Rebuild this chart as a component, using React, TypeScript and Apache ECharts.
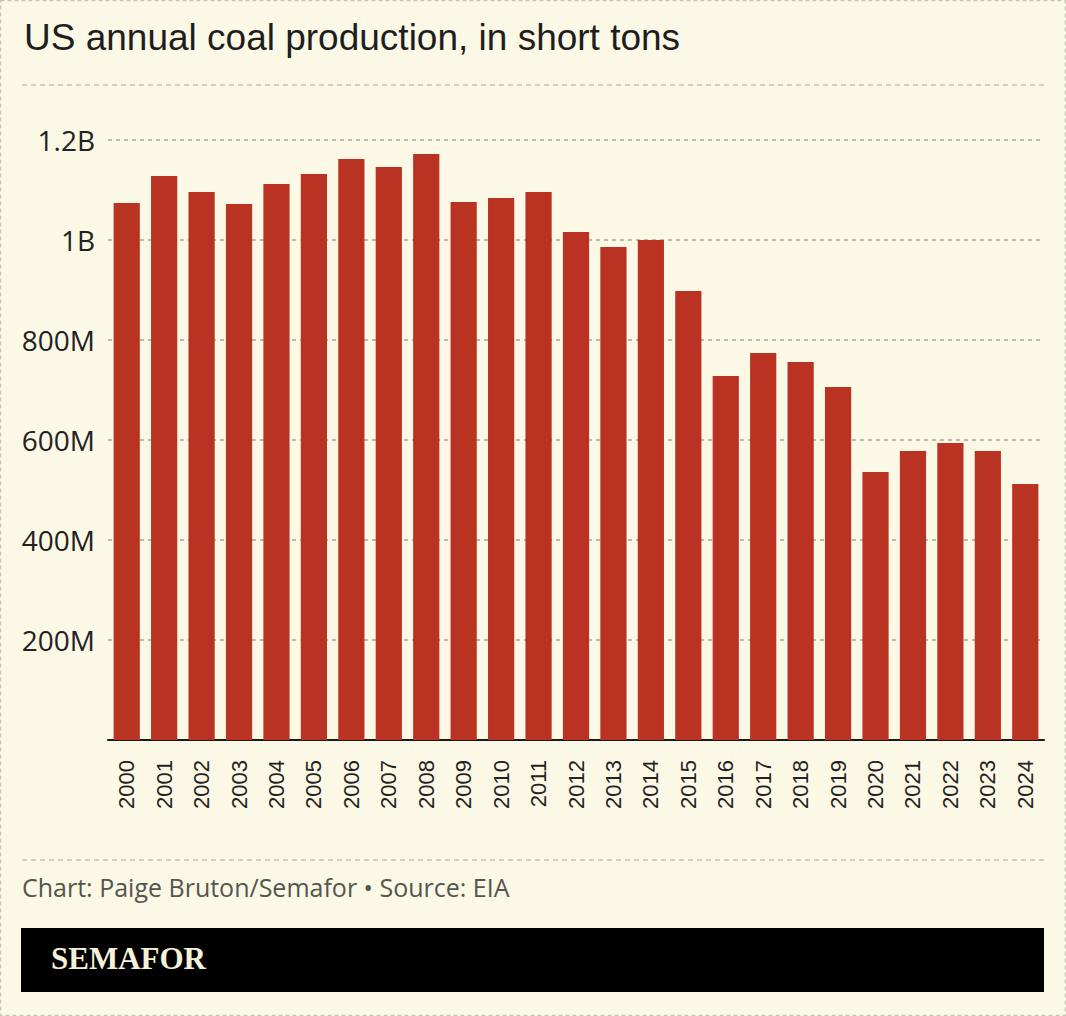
import React, { useEffect, useRef } from "react";
import * as echarts from "echarts";

const years = [
  "2000", "2001", "2002", "2003", "2004", "2005", "2006", "2007", "2008", "2009",
  "2010", "2011", "2012", "2013", "2014", "2015", "2016", "2017", "2018", "2019",
  "2020", "2021", "2022", "2023", "2024",
];

// Annual production, short tons
const production = [
  1074e6, 1128e6, 1096e6, 1072e6, 1112e6, 1132e6, 1162e6, 1146e6, 1172e6, 1076e6,
  1084e6, 1096e6, 1016e6, 986e6, 1000e6, 898e6, 728e6, 774e6, 756e6, 706e6,
  536e6, 578e6, 594e6, 578e6, 512e6,
];

const titleText = "US annual coal production, in short tons";
const sourceText = "Chart: Paige Bruton/Semafor • Source: EIA";
const brandText = "SEMAFOR";

const W = 1066;
const H = 1016;
const BG = "#fcf8e6";
const BAR = "#b93222";

function formatTons(v: number): string {
  if (v === 0) return "";
  if (v >= 1e9) return `${+(v / 1e9).toFixed(1)}B`;
  return `${Math.round(v / 1e6)}M`;
}

export default function App() {
  const ref = useRef<HTMLDivElement>(null);

  useEffect(() => {
    document.body.style.margin = "0";
    const chart = echarts.init(ref.current!, null, { renderer: "svg" });
    chart.setOption({
      animation: false,
      backgroundColor: BG,
      grid: { left: 108, right: 22, top: 140, bottom: 276, containLabel: false },
      xAxis: {
        type: "category",
        data: years,
        axisLine: { lineStyle: { color: "#1a1a1a", width: 2 } },
        axisTick: { alignWithLabel: true, length: 9, lineStyle: { color: "#1a1a1a", width: 2 } },
        axisLabel: {
          rotate: 90,
          margin: 20,
          color: "#222",
          fontFamily: "'Liberation Sans', Arial, sans-serif",
          fontSize: 22,
        },
      },
      yAxis: {
        type: "value",
        min: 0,
        max: 1.2e9,
        interval: 2e8,
        axisLine: { show: false },
        axisTick: { show: false },
        splitLine: { lineStyle: { color: "#a6a49a", type: [4, 4], width: 1.5 } },
        axisLabel: {
          formatter: formatTons,
          margin: 13,
          color: "#222",
          fontFamily: "'Open Sans', sans-serif",
          fontSize: 28,
        },
      },
      series: [
        {
          type: "bar",
          data: production,
          barCategoryGap: "30%",
          itemStyle: { color: BAR },
        },
      ],
      graphic: [
        {
          type: "rect",
          shape: { x: 0.5, y: 0.5, width: W - 1, height: H - 1 },
          style: { fill: "none", stroke: "#c4c4bc", lineWidth: 1.5, lineDash: [4, 3] },
          silent: true,
        },
        {
          type: "text",
          left: 24,
          top: 19,
          style: {
            text: titleText,
            fill: "#1e1e1e",
            font: "37px 'Liberation Sans', Arial, sans-serif",
          },
        },
        {
          type: "line",
          shape: { x1: 22, y1: 85, x2: 1044, y2: 85 },
          style: { stroke: "#c6c4b6", lineWidth: 1.5, lineDash: [5, 4] },
        },
        {
          type: "line",
          shape: { x1: 22, y1: 860, x2: 1044, y2: 860 },
          style: { stroke: "#c6c4b6", lineWidth: 1.5, lineDash: [5, 4] },
        },
        {
          type: "text",
          left: 22,
          top: 874,
          style: {
            text: sourceText,
            fill: "#55554f",
            font: "25px 'Open Sans', sans-serif",
          },
        },
        {
          type: "rect",
          shape: { x: 21, y: 928, width: 1023, height: 64 },
          style: { fill: "#000" },
        },
        {
          type: "text",
          left: 51,
          top: 943,
          style: {
            text: brandText,
            fill: "#f6f1d8",
            font: "bold 31px 'Liberation Serif', 'DejaVu Serif', serif",
          },
        },
      ],
    });
    return () => chart.dispose();
  }, []);

  return (
    <div
      ref={ref}
      style={{ position: "absolute", left: 0, top: 0, width: W, height: H }}
    />
  );
}
